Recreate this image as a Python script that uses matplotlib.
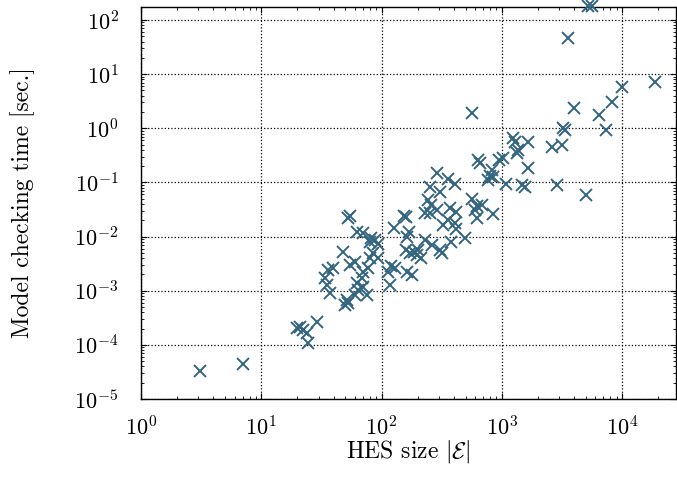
import numpy as np
import matplotlib
matplotlib.use("Agg")
import matplotlib.pyplot as plt

plt.rcParams['font.family'] = 'serif'
plt.rcParams['font.serif'] = ['cmr10']
plt.rcParams['mathtext.fontset'] = 'cm'
plt.rcParams['axes.unicode_minus'] = False
plt.rcParams['axes.formatter.use_mathtext'] = True

# HES size |E| vs model checking time (sec.)
hes_size = [3.1, 7.05, 19.8, 21.0, 22.2, 24.0, 24.5, 29.1, 52.6, 54.7,
            70.2, 62.5, 81.8, 88.3, 93.5, 80.2, 127, 154, 160, 169,
            230, 160, 173, 186, 197, 213, 47.9, 85, 80.2, 93.5,
            120, 130, 113, 60.2, 54.7, 35.9, 39.5, 77.2, 70.2, 163,
            179, 33.9, 35.2, 68.8, 62.5, 118, 70.2, 63.8, 37.3, 60.2,
            51.6, 52.6, 49.7, 75.7, 258, 253, 244, 290, 371, 417,
            357, 324, 408, 417, 494, 378, 230, 263, 306, 201,
            318, 163, 290, 357, 408, 253, 306, 566, 622, 599,
            622, 846, 635, 659, 948, 1024, 798, 769, 846, 1084,
            830, 1473, 1560, 1340, 1241, 1289, 1652, 1365, 1652, 2618,
            3170, 2878, 5020, 685, 566, 3230, 3357, 3990, 6440, 7360,
            8260, 10000, 18800, 3556, 5216, 5630]
check_time = [3.29e-5, 4.43e-5, 2.05e-4, 2.14e-4, 1.88e-4, 1.66e-4, 1.08e-4, 2.64e-4, 2.20e-2, 2.40e-2,
              1.16e-2, 1.21e-2, 9.4e-3, 8.6e-3, 7.3e-3, 7.9e-3, 1.44e-2, 2.40e-2, 2.30e-2, 1.21e-2,
              2.72e-2, 5.65e-3, 4.97e-3, 5.19e-3, 4.57e-3, 4.02e-3, 5.19e-3, 4.97e-3, 4.02e-3, 4.02e-3,
              2.86e-3, 2.62e-3, 2.22e-3, 3.39e-3, 2.98e-3, 2.41e-3, 2.62e-3, 2.62e-3, 2.22e-3, 2.22e-3,
              1.95e-3, 1.72e-3, 1.27e-3, 1.72e-3, 1.39e-3, 1.27e-3, 1.17e-3, 1.03e-3, 9.1e-4, 8.3e-4,
              6.7e-4, 5.9e-4, 5.4e-4, 8.3e-4, 3.83e-2, 2.72e-2, 4.73e-2, 3.10e-2, 3.37e-2, 2.84e-2,
              2.02e-2, 1.64e-2, 1.78e-2, 1.38e-2, 9.4e-3, 7.9e-3, 8.6e-3, 6.99e-3, 5.65e-3, 5.65e-3,
              4.97e-3, 9.8e-3, 0.149, 0.116, 9.35e-2, 8.24e-2, 6.65e-2, 4.94e-2, 3.67e-2, 3.10e-2,
              2.20e-2, 2.61e-2, 0.260, 0.229, 0.260, 0.283, 0.132, 0.111, 0.126, 9.35e-2,
              0.170, 8.95e-2, 8.24e-2, 0.349, 0.662, 0.558, 0.558, 0.397, 0.185, 0.451,
              0.491, 8.95e-2, 5.86e-2, 3.83e-2, 1.91, 1.01, 0.93, 2.37, 1.76, 0.93,
              3.05, 5.79, 7.16, 46.6, 181, 181]

fig = plt.figure(figsize=(6.77, 4.91), dpi=100)
ax = fig.add_axes([0.2083, 0.1874, 0.790, 0.799])

ax.plot(hes_size, check_time, linestyle='none', marker='x', markersize=9,
        markeredgewidth=1.4, color='#34657F', clip_on=False, zorder=3)

ax.set_xscale('log')
ax.set_yscale('log')
ax.set_xlim(1, 2.8e4)
ax.set_ylim(1e-5, 176)

ax.grid(True, which='major', linestyle=':', color='black', linewidth=0.9)
ax.tick_params(which='both', direction='in', top=True, right=True, labelsize=16)
ax.tick_params(which='major', length=4, width=0.8)
ax.tick_params(which='minor', length=2, width=0.6)
ax.tick_params(axis='x', pad=12)
ax.tick_params(axis='y', pad=16)
for s in ax.spines.values():
    s.set_linewidth(1.0)

ax.set_xlabel('HES size $|\\mathcal{E}|$', fontsize=17, labelpad=-1)
ax.set_ylabel('Model checking time [sec.]', fontsize=17, labelpad=28)

fig.savefig('out.png', dpi=100)
